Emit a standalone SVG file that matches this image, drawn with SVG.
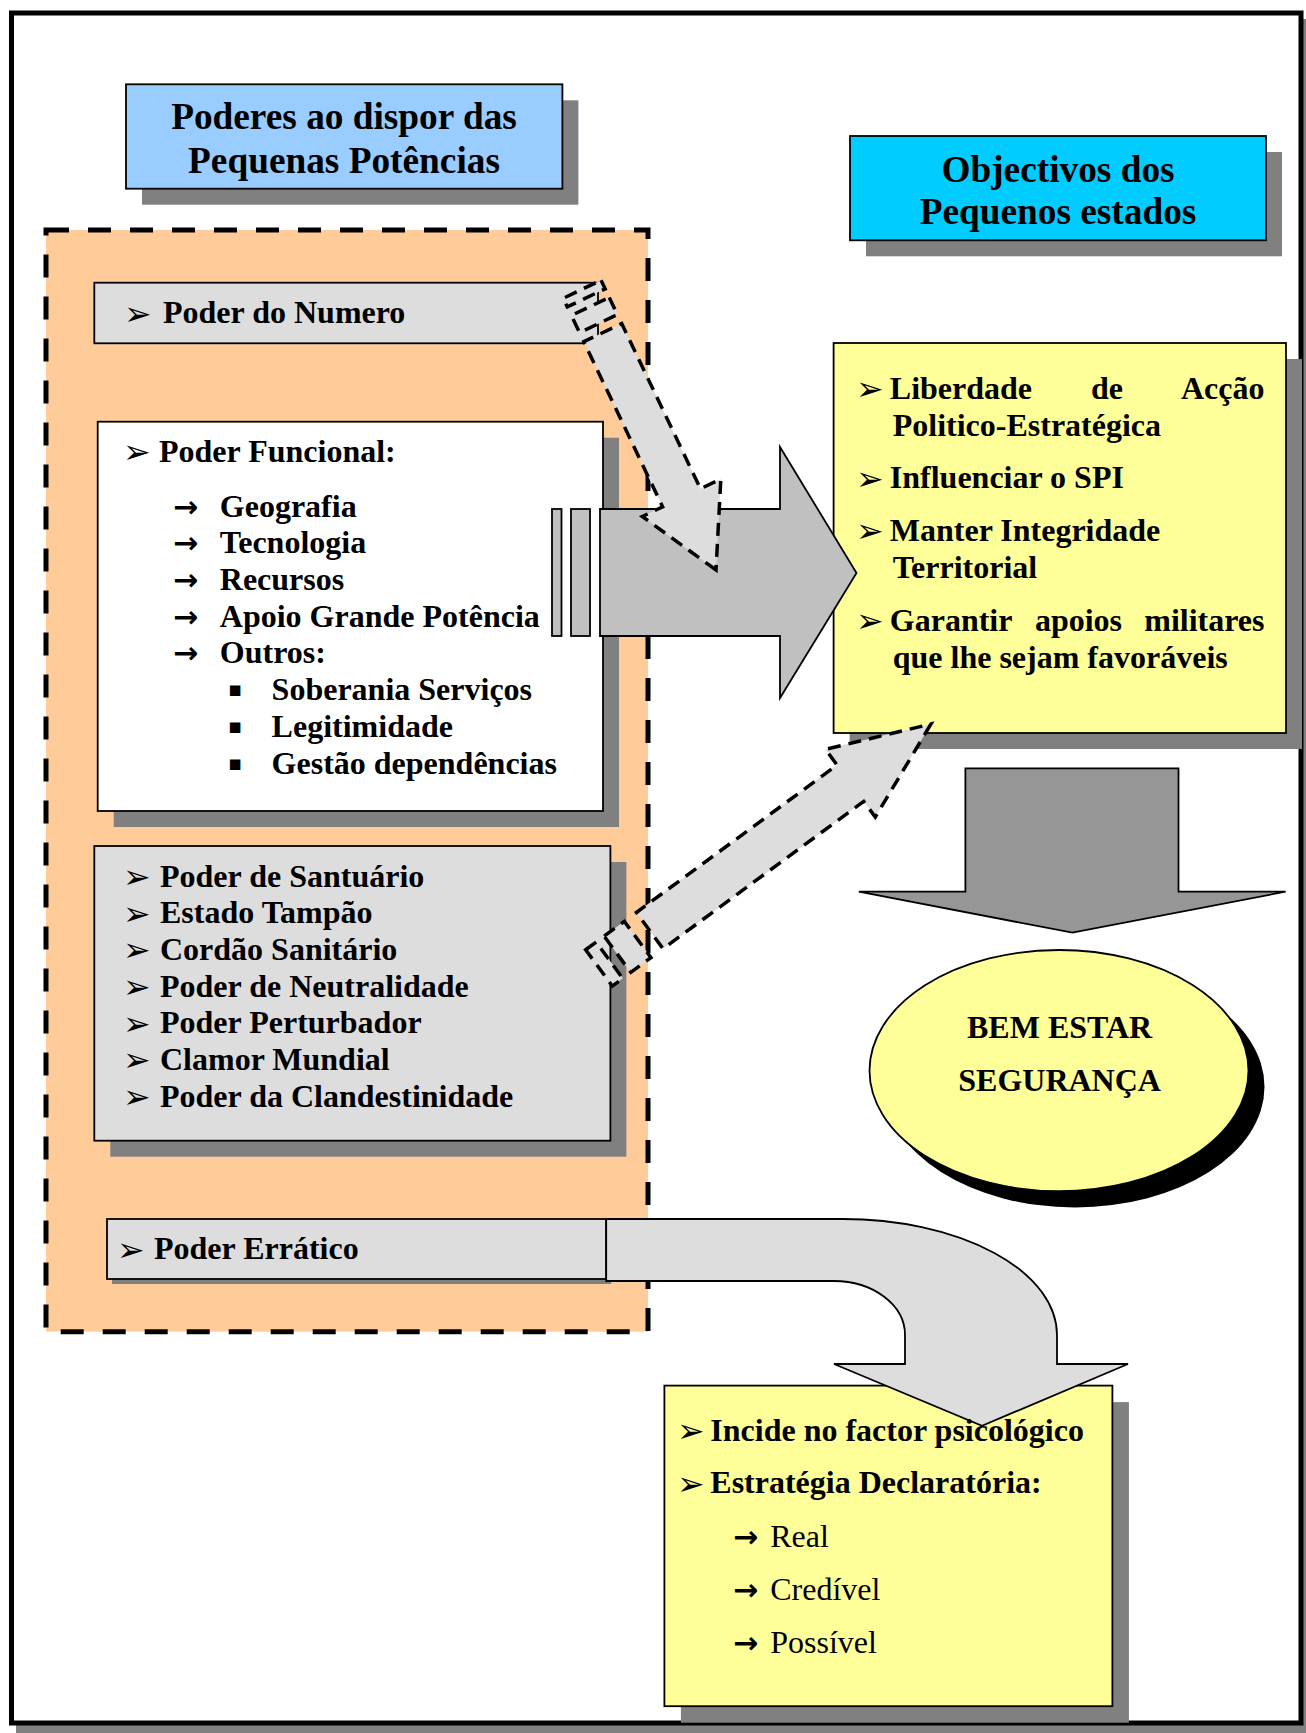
<svg xmlns="http://www.w3.org/2000/svg" width="1306" height="1733" viewBox="0 0 1306 1733">
<defs>
<style>
.t{font-family:"Liberation Serif","Times New Roman",serif;font-size:32px;font-weight:bold;fill:#000}
.r{font-family:"Liberation Serif","Times New Roman",serif;font-size:32px;font-weight:normal;fill:#000}
.h{font-family:"Liberation Serif","Times New Roman",serif;font-size:37.3px;font-weight:bold;fill:#000;text-anchor:middle}
.b{font-family:"DejaVu Sans",sans-serif;font-size:33px;fill:#000}
.a{font-family:"DejaVu Sans",sans-serif;font-size:30px;font-weight:bold;fill:#000}
.s{font-family:"DejaVu Sans",sans-serif;font-size:21px;fill:#000}
.box{stroke:#000;stroke-width:1.8}
.sh{fill:#808080}
.dash{fill:#DDDDDD;stroke:#000;stroke-width:3.5;stroke-dasharray:13 8}
</style>
</defs>
<g id="frame">
<rect x="16" y="19" width="1300" height="1730" fill="#808080"/>
<rect x="11.5" y="13" width="1289.5" height="1710" fill="#fff" stroke="#000" stroke-width="5"/>
</g>
<g id="title-poderes">
<rect class="sh" x="142" y="100.3" width="436.4" height="104.4"/>
<rect class="box" x="126" y="84.3" width="436.4" height="104.4" fill="#99CCFF"/>
<text class="h" x="344" y="129.3">Poderes ao dispor das</text>
<text class="h" x="344" y="172.7">Pequenas Potências</text>
</g>
<g id="title-objectivos">
<rect class="sh" x="866" y="152" width="416" height="104.3"/>
<rect class="box" x="850" y="136" width="416" height="104.3" fill="#00CCFF"/>
<text class="h" x="1058" y="181.7">Objectivos dos</text>
<text class="h" x="1058" y="224">Pequenos estados</text>
</g>
<g id="poderes-area">
<rect x="46" y="230" width="602" height="1101.7" fill="#FFCC99" stroke="#000" stroke-width="5" stroke-dasharray="23 19"/>
</g>
<g id="poder-numero">
<rect class="box" x="94.3" y="282.7" width="503.7" height="60.6" fill="#DDDDDD"/>
<text class="b" x="124" y="324.5">➢</text>
<text class="t" x="163" y="323.3">Poder do Numero</text>
</g>
<g id="poder-funcional">
<rect class="sh" x="113.7" y="437.7" width="505.3" height="389.3"/>
<rect class="box" x="97.7" y="421.7" width="505.3" height="389.3" fill="#fff"/>
<text class="b" x="123" y="463">➢</text>
<text class="t" x="159" y="461.7">Poder Funcional:</text>
<text class="a" x="173" y="516.7">→</text><text class="t" x="219.8" y="516.7">Geografia</text>
<text class="a" x="173" y="553.3">→</text><text class="t" x="219.8" y="553.3">Tecnologia</text>
<text class="a" x="173" y="590">→</text><text class="t" x="219.8" y="590">Recursos</text>
<text class="a" x="173" y="626.7">→</text><text class="t" x="219.8" y="626.7">Apoio Grande Potência</text>
<text class="a" x="173" y="663.3">→</text><text class="t" x="219.8" y="663.3">Outros:</text>
<text class="s" x="228" y="695.5">▪</text><text class="t" x="271.6" y="700">Soberania Serviços</text>
<text class="s" x="228" y="732.8">▪</text><text class="t" x="271.6" y="737.3">Legitimidade</text>
<text class="s" x="228" y="769.5">▪</text><text class="t" x="271.6" y="774">Gestão dependências</text>
</g>
<g id="poder-santuario">
<rect class="sh" x="110.3" y="862" width="516.1" height="294.7"/>
<rect class="box" x="94.3" y="846" width="516.1" height="294.7" fill="#DDDDDD"/>
<text class="b" x="123" y="888">➢</text><text class="t" x="160" y="886.7">Poder de Santuário</text>
<text class="b" x="123" y="924.6">➢</text><text class="t" x="160" y="923.3">Estado Tampão</text>
<text class="b" x="123" y="961.3">➢</text><text class="t" x="160" y="960">Cordão Sanitário</text>
<text class="b" x="123" y="998">➢</text><text class="t" x="160" y="996.7">Poder de Neutralidade</text>
<text class="b" x="123" y="1034.6">➢</text><text class="t" x="160" y="1033.3">Poder Perturbador</text>
<text class="b" x="123" y="1071.3">➢</text><text class="t" x="160" y="1070">Clamor Mundial</text>
<text class="b" x="123" y="1108">➢</text><text class="t" x="160" y="1106.7">Poder da Clandestinidade</text>
</g>
<g id="poder-erratico">
<rect class="sh" x="112" y="1224" width="499.2" height="60"/>
<rect class="box" x="107" y="1219" width="499.2" height="60" fill="#DDDDDD"/>
<text class="b" x="117" y="1260.5">➢</text>
<text class="t" x="154" y="1259.3">Poder Errático</text>
</g>
<g id="objectivos-lista">
<rect class="sh" x="849.6" y="359" width="452.4" height="390"/>
<rect class="box" x="833.6" y="343" width="452.4" height="390" fill="#FFFF99"/>
<text class="b" x="856" y="400.3">➢</text>
<text class="t" x="889.8" y="399">Liberdade</text><text class="t" x="1091" y="399">de</text><text class="t" x="1264.5" y="399" text-anchor="end">Acção</text>
<text class="t" x="892.7" y="435.7">Politico-Estratégica</text>
<text class="b" x="856" y="489.6">➢</text><text class="t" x="889.8" y="488.3">Influenciar o SPI</text>
<text class="b" x="856" y="542.3">➢</text><text class="t" x="889.8" y="541">Manter Integridade</text>
<text class="t" x="892.7" y="578.3">Territorial</text>
<text class="b" x="856" y="632.3">➢</text>
<text class="t" x="889.8" y="631">Garantir</text><text class="t" x="1034.9" y="631">apoios</text><text class="t" x="1264.5" y="631" text-anchor="end">militares</text>
<text class="t" x="892.7" y="667.7">que lhe sejam favoráveis</text>
</g>
<g id="bem-estar">
<ellipse cx="1075" cy="1086.8" rx="189.5" ry="120.6" fill="#000"/>
<ellipse cx="1059" cy="1070.6" rx="189.5" ry="120.6" fill="#FFFF99" stroke="#000" stroke-width="1.8"/>
<text class="t" x="1059.6" y="1038.3" text-anchor="middle">BEM ESTAR</text>
<text class="t" x="1059.6" y="1090.7" text-anchor="middle">SEGURANÇA</text>
</g>
<g id="estrategia">
<rect class="sh" x="680.9" y="1402.1" width="448" height="320.6"/>
<rect class="box" x="664.4" y="1385.6" width="448" height="320.6" fill="#FFFF99"/>
</g>
<g id="connectors">
<path d="M600,509 H780 V447 L856.5,573 L780,698 V636 H600 Z" fill="#C0C0C0" stroke="#000" stroke-width="1.8"/>
<rect x="552" y="509" width="9.5" height="127" fill="#C0C0C0" stroke="#000" stroke-width="1.8"/>
<rect x="571" y="509" width="19" height="127" fill="#C0C0C0" stroke="#000" stroke-width="1.8"/>
<path d="M965.4,768.3 H1178.5 V891.7 H1285.6 L1072.4,932.7 L858.8,891.7 H965.4 Z" fill="#969696" stroke="#000" stroke-width="1.8"/>
<path d="M606.2,1219 H843 A214,116 0 0 1 1057,1335 V1364 H1128 L982,1425.8 L834,1364 H905 V1335 A71,54 0 0 0 834,1281 H606.2 Z" fill="#DDDDDD" stroke="#000" stroke-width="1.8"/>
<g transform="translate(716,570) rotate(64.5)">
<path class="dash" d="M0,0 L-80,43.5 L-80,21 L-263,21 L-263,-21 L-80,-21 L-80,-43.5 Z"/>
<rect class="dash" x="-292" y="-21" width="19" height="42"/>
<rect class="dash" x="-311" y="-21" width="9.5" height="42"/>
</g>
<g transform="translate(931,724) rotate(-36.3)">
<path class="dash" d="M0,0 L-100,42 L-100,22.5 L-349,22.5 L-349,-22.5 L-100,-22.5 L-100,-42 Z"/>
<rect class="dash" x="-389" y="-22.5" width="25" height="45"/>
<rect class="dash" x="-412" y="-22.5" width="13" height="45"/>
</g>
</g>
<g id="estrategia-texto">
<text class="b" x="677" y="1442.3">➢</text><text class="t" x="710.3" y="1441">Incide no factor psicológico</text>
<text class="b" x="677" y="1494.5">➢</text><text class="t" x="710.3" y="1493.2">Estratégia Declaratória:</text>
<text class="a" x="733" y="1546.8">→</text><text class="r" x="770.2" y="1546.8">Real</text>
<text class="a" x="733" y="1599.7">→</text><text class="r" x="770.2" y="1599.7">Credível</text>
<text class="a" x="733" y="1652.6">→</text><text class="r" x="770.2" y="1652.6">Possível</text>
</g>
</svg>
